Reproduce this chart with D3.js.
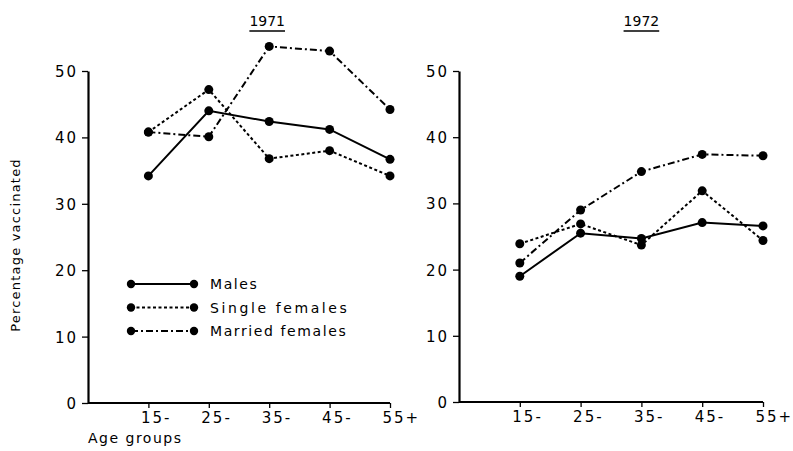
<!DOCTYPE html>
<html><head><meta charset="utf-8">
<script src="https://cdn.jsdelivr.net/npm/d3@7/dist/d3.min.js"></script>
<style>
body{margin:0;background:#fff;}
text{font-family:"DejaVu Sans",sans-serif;fill:#000;}
</style></head>
<body><svg id="c" width="793" height="451"></svg>
<script>
const ageGroups = ["15-","25-","35-","45-","55+"];
const yTicks = [0,10,20,30,40,50];
const seriesNames = ["Males","Single females","Married females"];
const years = ["1971","1972"];
const males1971   = [34.2, 44.0, 42.4, 41.2, 36.7];
const single1971  = [40.8, 47.2, 36.8, 38.0, 34.2];
const married1971 = [40.8, 40.1, 53.7, 53.0, 44.2];
const males1972   = [19.0, 25.5, 24.7, 27.1, 26.6];
const single1972  = [23.9, 26.9, 23.7, 31.9, 24.4];
const married1972 = [21.0, 29.0, 34.8, 37.4, 37.2];

const dashes = [null, "3,2.5", "7,3,2,3"];
const svg = d3.select("#c");

const panels = [
  {year: years[0], data:[males1971,single1971,married1971], x0:88, x1:390, y0:403, y1:71},
  {year: years[1], data:[males1972,single1972,married1972], x0:459, x1:763, y0:402, y1:71}
];

panels.forEach((p,pi)=>{
  const x = d3.scaleLinear().domain([-1, ageGroups.length-1]).range([p.x0,p.x1]);
  const y = d3.scaleLinear().domain([0,50]).range([p.y0,p.y1]);
  const g = svg.append("g");

  const ya = g.append("g").attr("transform",`translate(${p.x0},0)`)
    .call(d3.axisLeft(y).tickValues(yTicks).tickSize(6).tickPadding(4).tickSizeOuter(0));
  ya.select(".domain").attr("stroke","#000").attr("stroke-width",2.2);
  ya.selectAll(".tick line").attr("stroke","#000").attr("stroke-width",1.3);
  ya.selectAll(".tick text").style("font-size","15px").style("letter-spacing","2px")
    .attr("dy","0.36em");

  const xa = g.append("g").attr("transform",`translate(0,${p.y0})`)
    .call(d3.axisBottom(x).tickValues(d3.range(ageGroups.length)).tickFormat(i=>ageGroups[i])
      .tickSize(5).tickSizeOuter(0));
  xa.select(".domain").attr("stroke","#000").attr("stroke-width",2.2)
    .attr("d",`M${p.x0},0H${p.x1}`);
  xa.selectAll(".tick line").attr("stroke","#000").attr("stroke-width",1.3);
  xa.selectAll(".tick text").style("font-size","15px").style("letter-spacing","2px")
    .attr("text-anchor","start").attr("x",-8).attr("y",9).attr("dy","0.71em");

  const tx = (x(0)+x(ageGroups.length-1))/2 + (pi===0?-2:0);
  const t = g.append("text").attr("x",tx).attr("y",26).attr("text-anchor","middle")
    .style("font-size","14px").text(p.year);
  const bb = t.node().getBBox();
  g.append("line").attr("x1",bb.x).attr("x2",bb.x+bb.width).attr("y1",31).attr("y2",31)
    .attr("stroke","#000").attr("stroke-width",1.4);

  const line = d3.line().x((d,i)=>x(i)).y(d=>y(d));
  p.data.forEach((s,si)=>{
    g.append("path").datum(s).attr("d",line).attr("fill","none").attr("stroke","#000")
      .attr("stroke-width",2).attr("stroke-dasharray",dashes[si]);
    g.selectAll(null).data(s).join("circle").attr("cx",(d,i)=>x(i)).attr("cy",d=>y(d))
      .attr("r",4.5).attr("fill","#000");
  });

  if(pi===0){
    const lg = g.append("g");
    seriesNames.forEach((n,si)=>{
      const ly = 284 + si*23.5;
      lg.append("line").attr("x1",131).attr("x2",194).attr("y1",ly).attr("y2",ly)
        .attr("stroke","#000").attr("stroke-width",2).attr("stroke-dasharray",dashes[si]);
      lg.append("circle").attr("cx",131).attr("cy",ly).attr("r",4.2);
      lg.append("circle").attr("cx",194).attr("cy",ly).attr("r",4.2);
      lg.append("text").attr("x",210).attr("y",ly+5).style("font-size","14px")
        .style("letter-spacing", si===1?"2.6px":"1.6px").text(n);
    });
    g.append("text").attr("transform",`translate(20,245) rotate(-90)`).attr("text-anchor","middle")
      .style("font-size","13px").style("letter-spacing","1.2px").text("Percentage vaccinated");
    g.append("text").attr("x",88).attr("y",443).style("font-size","14px")
      .style("letter-spacing","1.5px").text("Age groups");
  }
});
</script></body></html>
